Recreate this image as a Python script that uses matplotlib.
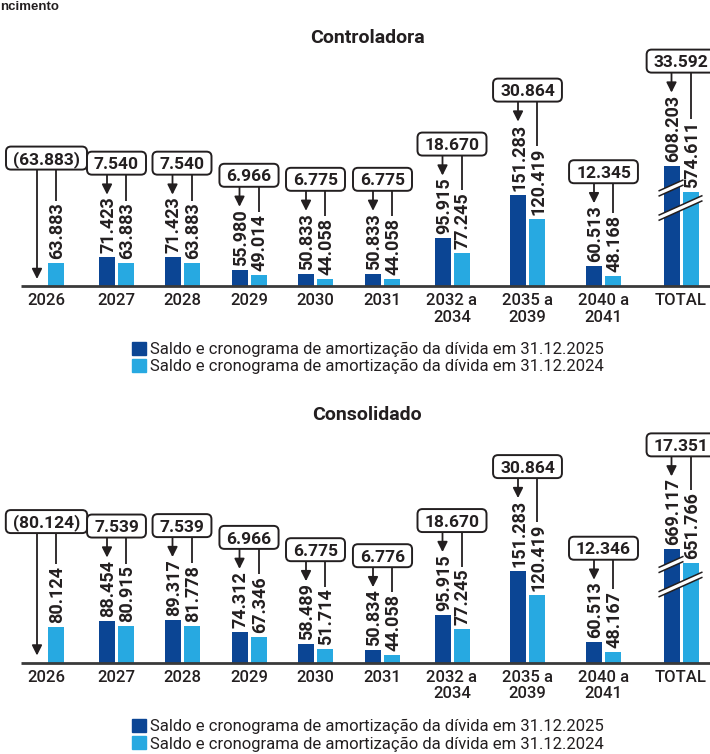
import matplotlib
matplotlib.use("Agg")
import matplotlib.pyplot as plt
from matplotlib.patches import Patch, Polygon, FancyBboxPatch

plt.rcParams["font.family"] = ["Roboto", "DejaVu Sans"]

# ---------------------------------------------------------------- data
categories = ["2026", "2027", "2028", "2029", "2030", "2031",
              "2032 a\n2034", "2035 a\n2039", "2040 a\n2041", "TOTAL"]

ctrl_2025 = [0.0, 71.423, 71.423, 55.980, 50.833, 50.833, 95.915, 151.283, 60.513, 608.203]
ctrl_2024 = [63.883, 63.883, 63.883, 49.014, 44.058, 44.058, 77.245, 120.419, 48.168, 574.611]

cons_2025 = [0.0, 88.454, 89.317, 74.312, 58.489, 50.834, 95.915, 151.283, 60.513, 669.117]
cons_2024 = [80.124, 80.915, 81.778, 67.346, 51.714, 44.058, 77.245, 120.419, 48.167, 651.766]

series_labels = ["Saldo e cronograma de amortização da dívida em 31.12.2025",
                 "Saldo e cronograma de amortização da dívida em 31.12.2024"]

# ---------------------------------------------------------------- style
DARK = "#0b4594"
LIGHT = "#27a9e1"
INK = "#231f20"
AXIS = "#3a3a3a"

W_PX, H_PX = 710, 754
group_x = [46.5, 116.5, 182, 249, 315.5, 382.5, 452, 527.5, 603.5, 681]
BAR_W = 16
HALF_GAP = 9.5
Y0 = 35.0      # value sitting on the baseline
PPU = 0.785    # pixels per value unit
GAP_PX = 22    # space between the highest value label and its box
GAP_SOLO_PX = 33
BOX_H = 23

VAL_FS = 13
BOX_FS = 12.5
CAT_FS = 12
TITLE_FS = 14
LEG_FS = 12
CAP = 0.711 * 100 / 72   # cap height in px per point of font size

fig = plt.figure(figsize=(W_PX / 100, H_PX / 100), dpi=100)
renderer = fig.canvas.get_renderer()

fig.text(0.5 / W_PX, 1 - 10 / H_PX, "ncimento", ha="left", va="baseline",
         fontsize=9.5, fontweight="bold", color=INK,
         family=["Liberation Sans", "DejaVu Sans"])


def fmt(v):
    s = f"{abs(v):.3f}"
    return f"({s})" if v < 0 else s


def break_band(ax, x0, x1, y_px, slope=0.45, half=2.6):
    """White slanted gap with black edges, drawn across broken bars."""
    xm = (x0 + x1) / 2

    def yv(x, d):
        return Y0 + (y_px + d + slope * (x - xm)) / PPU
    poly = Polygon([(x0, yv(x0, -half)), (x1, yv(x1, -half)),
                    (x1, yv(x1, half)), (x0, yv(x0, half))],
                   closed=True, fc="white", ec="none", zorder=4)
    ax.add_patch(poly)
    for d in (-half, half):
        ax.plot([x0, x1], [yv(x0, d), yv(x1, d)], color=INK, lw=1.1,
                zorder=5, solid_capstyle="butt")


def panel(title, title_y, base_px, top_px, dark, light, total_cut, legend_top):
    ax = fig.add_axes([0, 1 - base_px / H_PX, 1, (base_px - top_px) / H_PX])
    ax.set_xlim(0, W_PX)
    ax.set_ylim(Y0, Y0 + (base_px - top_px) / PPU)
    ax.axis("off")

    cuts = [0.0] * (len(categories) - 1) + [total_cut]
    shown_dark = [v - c for v, c in zip(dark, cuts)]
    shown_light = [v - c for v, c in zip(light, cuts)]
    xd = [g - HALF_GAP for g in group_x]
    xl = [g + HALF_GAP for g in group_x]

    ax.bar(xd, shown_dark, width=BAR_W, color=DARK, zorder=3)
    ax.bar(xl, shown_light, width=BAR_W, color=LIGHT, zorder=3)
    ax.plot([21, W_PX], [Y0, Y0], color=AXIS, lw=2, clip_on=False,
            solid_capstyle="butt", zorder=6)

    # broken TOTAL bars
    i = len(categories) - 1
    break_band(ax, xd[i] - 13, xd[i] + 12, 98)
    break_band(ax, xd[i] - 13, xl[i] + 12, 78)

    inv = ax.transData.inverted()
    for i, g in enumerate(group_x):
        tops = []
        for x, v, s in ((xd[i], dark[i], shown_dark[i]),
                        (xl[i], light[i], shown_light[i])):
            if v <= 0:
                tops.append(None)
                continue
            t = ax.text(x + CAP * VAL_FS / 2, s + 4 / PPU, fmt(v), rotation=90,
                        rotation_mode="anchor", ha="left", va="baseline",
                        fontsize=VAL_FS, fontweight="bold", color=INK, zorder=6)
            bb = t.get_window_extent(renderer)
            tops.append(inv.transform((0, bb.y1))[1])

        gap = GAP_PX if tops[0] is not None else GAP_SOLO_PX
        box_bottom = max(t for t in tops if t is not None) + gap / PPU
        diff = dark[i] - light[i]
        bt = ax.text(g, box_bottom + (BOX_H / 2 - CAP * BOX_FS / 2) / PPU,
                     fmt(diff), ha="center", va="baseline", fontsize=BOX_FS,
                     fontweight="bold", color=INK, zorder=8)
        tw = bt.get_window_extent(renderer).width
        bw = tw + 14
        box = FancyBboxPatch((g - bw / 2, box_bottom), bw, BOX_H / PPU,
                             boxstyle="round,pad=0,rounding_size=5",
                             mutation_aspect=1 / PPU, fc="white", ec=INK,
                             lw=1.4, zorder=7, clip_on=False)
        ax.add_patch(box)

        # arrow toward the current balance, plain line toward the previous one
        end_dark = tops[0] + 2 / PPU if tops[0] is not None else Y0 + 7 / PPU
        ax.annotate("", xy=(xd[i], end_dark), xytext=(xd[i], box_bottom),
                    arrowprops=dict(arrowstyle="-|>,head_length=0.5,head_width=0.25",
                                    color=INK, lw=1.3, shrinkA=0, shrinkB=0,
                                    mutation_scale=12), zorder=6)
        ax.plot([xl[i], xl[i]], [box_bottom, tops[1] + 2 / PPU], color=INK,
                lw=1.3, zorder=6, solid_capstyle="butt")

        ax.text(g, Y0 - 7 / PPU, categories[i], ha="center", va="top",
                fontsize=CAT_FS, fontweight="medium", color=INK,
                linespacing=1.15, clip_on=False)

    fig.text(367 / W_PX, 1 - title_y / H_PX, title, ha="center", va="center",
             fontsize=TITLE_FS, fontweight="bold", color=INK)

    fig.legend(handles=[Patch(color=DARK), Patch(color=LIGHT)],
               labels=series_labels, loc="upper left",
               bbox_to_anchor=(132 / W_PX, 1 - legend_top / H_PX),
               frameon=False, fontsize=LEG_FS, handlelength=0.85,
               handleheight=0.85, handletextpad=0.25, labelspacing=0.1,
               borderpad=0, borderaxespad=0, labelcolor=INK)


panel("Controladora", 38, 286, 45, ctrl_2025, ctrl_2024, 420.0, 342)
panel("Consolidado", 415, 662.5, 425, cons_2025, cons_2024, 490.0, 719)

fig.savefig("out.png", dpi=100)
